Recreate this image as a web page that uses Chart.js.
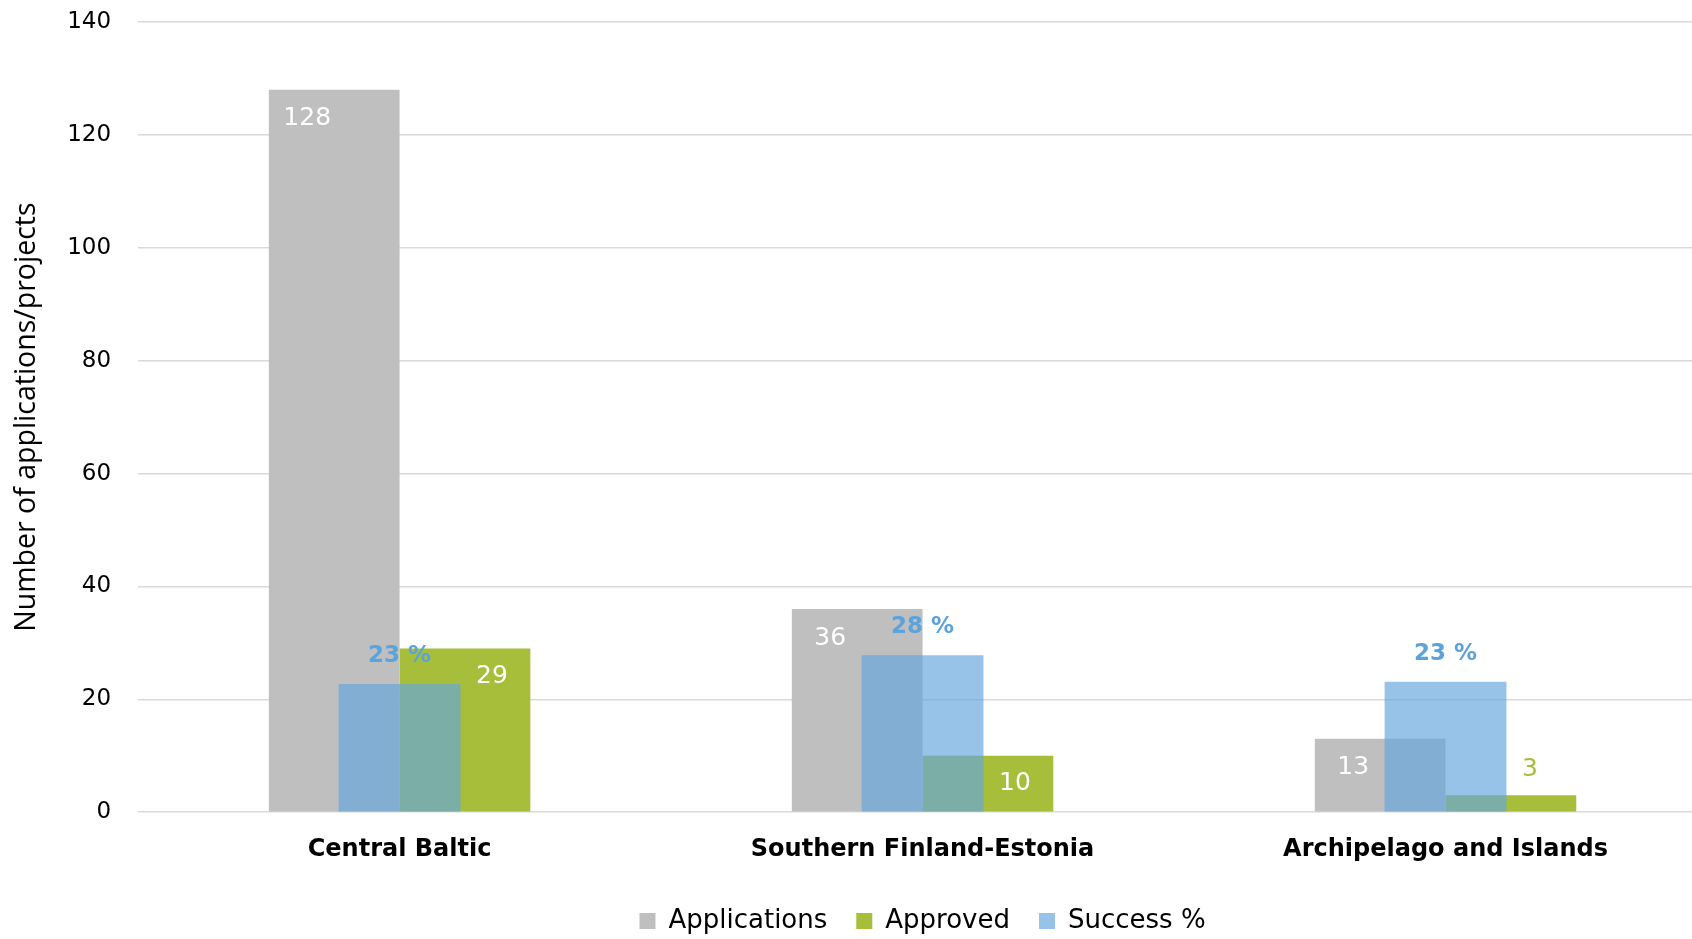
<!DOCTYPE html>
<html>
<head>
<meta charset="utf-8">
<script src="https://cdn.jsdelivr.net/npm/chart.js@4/dist/chart.umd.min.js"></script>
<style>
  html, body { margin: 0; padding: 0; background: #fff; overflow: hidden; }
  #wrap { width: 1692px; height: 939px; position: relative; overflow: hidden; }
  #c { display: block; }
</style>
</head>
<body>
<div id="wrap"><canvas id="c" width="1707" height="939"></canvas></div>
<script>
const categories = ['Central Baltic', 'Southern Finland-Estonia', 'Archipelago and Islands'];
const applications = [128, 36, 13];
const approved = [29, 10, 3];
const successPct = [22.7, 27.8, 23.1];
const yMin = 0, yMax = 140, yStep = 20;

const GRAY = '#BFBFBF';
const GREEN = '#A6BE3A';
const BLUE = 'rgba(100,166,221,0.67)';
const BLUE_TEXT = '#5CA3DC';

const labelPlugin = {
  id: 'valueLabels',
  afterDatasetsDraw(chart) {
    const ctx = chart.ctx;
    ctx.save();
    ctx.textAlign = 'center';
    ctx.textBaseline = 'middle';
    chart.data.datasets.forEach((ds, di) => {
      const meta = chart.getDatasetMeta(di);
      meta.data.forEach((el, i) => {
        const v = ds.data[i];
        const h = el.base - el.y;
        if (di === 0) {
          ctx.font = '25px "DejaVu Sans"';
          ctx.fillStyle = '#FFFFFF';
          ctx.fillText(String(v), el.x - 27, el.y + 29);
        } else if (di === 1) {
          ctx.font = '25px "DejaVu Sans"';
          if (h > 45) {
            ctx.fillStyle = '#FFFFFF';
            ctx.fillText(String(v), el.x + 27, el.y + 28);
          } else {
            ctx.fillStyle = GREEN;
            ctx.fillText(String(v), el.x + 19, el.y - 26);
          }
        } else {
          ctx.font = 'bold 23px "DejaVu Sans"';
          ctx.fillStyle = BLUE_TEXT;
          ctx.fillText(Math.round(v) + ' %', el.x, el.y - 28);
        }
      });
    });
    ctx.restore();
  }
};

new Chart(document.getElementById('c'), {
  type: 'bar',
  data: {
    labels: categories,
    datasets: [
      { label: 'Applications', data: applications, backgroundColor: GRAY, order: 1,
        barPercentage: 1, categoryPercentage: 0.5 },
      { label: 'Approved', data: approved, backgroundColor: GREEN, order: 1,
        barPercentage: 1, categoryPercentage: 0.5 },
      { label: 'Success %', data: successPct, backgroundColor: BLUE, order: 0, grouped: false,
        barPercentage: 1, categoryPercentage: 0.233 }
    ]
  },
  options: {
    responsive: false,
    animation: false,
    layout: { padding: { left: 6, right: 0, top: 22, bottom: -5 } },
    plugins: {
      tooltip: { enabled: false },
      legend: {
        position: 'bottom',
        fullSize: false,
        labels: {
          sort: (a, b) => a.datasetIndex - b.datasetIndex,
          boxWidth: 16, boxHeight: 16, padding: 29,
          color: '#000',
          font: { family: '"DejaVu Sans"', size: 26 }
        }
      }
    },
    scales: {
      x: {
        type: 'category',
        offset: true,
        grid: { display: false },
        border: { display: false },
        ticks: { color: '#000', padding: 15, font: { family: '"DejaVu Sans"', size: 24, weight: 'bold' } }
      },
      y: {
        min: yMin, max: yMax,
        afterFit: (s) => { s.width -= 4; s.paddingTop = 0; s.paddingBottom = 0; },
        ticks: { stepSize: yStep, color: '#000', padding: 27, font: { family: '"DejaVu Sans"', size: 23 } },
        grid: { color: '#D9D9D9', lineWidth: 1.5, drawTicks: false },
        border: { display: false },
        title: {
          display: true,
          text: 'Number of applications/projects',
          color: '#000',
          padding: { top: 4, bottom: 0 },
          font: { family: '"Open Sans"', size: 28.5, lineHeight: 1.2 }
        }
      }
    }
  },
  plugins: [labelPlugin]
});
</script>
</body>
</html>
